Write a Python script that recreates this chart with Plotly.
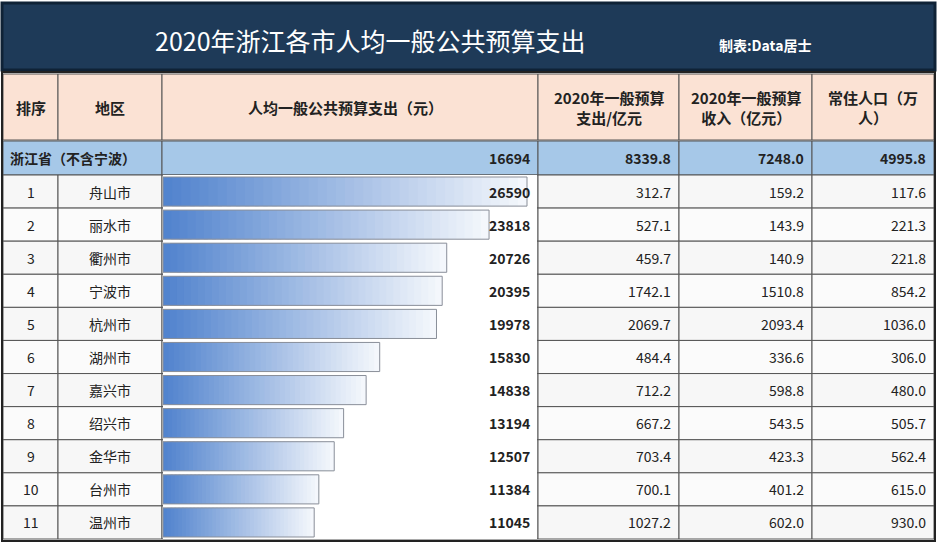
import plotly.graph_objects as go

# data
ranks = [str(i) for i in range(1, 12)]
cities = ["舟山市", "丽水市", "衢州市", "宁波市", "杭州市", "湖州市", "嘉兴市", "绍兴市", "金华市", "台州市", "温州市"]
per_capita = [26590, 23818, 20726, 20395, 19978, 15830, 14838, 13194, 12507, 11384, 11045]
expend = [312.7, 527.1, 459.7, 1742.1, 2069.7, 484.4, 712.2, 667.2, 703.4, 700.1, 1027.2]
revenue = [159.2, 143.9, 140.9, 1510.8, 2093.4, 336.6, 598.8, 543.5, 423.3, 401.2, 602.0]
population = [117.6, 221.3, 221.8, 854.2, 1036.0, 306.0, 480.0, 505.7, 562.4, 615.0, 930.0]
province = ["浙江省（不含宁波）", "16694", "8339.8", "7248.0", "4995.8"]
headers = ["排序", "地区", "人均一般公共预算支出（元）", "2020年一般预算<br>支出/亿元", "2020年一般预算<br>收入（亿元）", "常住人口（万<br>人）"]

W, H = 937, 543
cols = [3, 58, 162, 538, 679, 812, 934]
title_y = (3, 70)
head_y = (74, 140)
prov_y = (141, 175)
row_h = (539 - 175) / 11
row_top = 175
FONT = "Noto Sans CJK SC"

fig = go.Figure()
shapes = []
ann = []

def rect(x0, y0, x1, y1, fill, line="#555", lw=1):
    shapes.append(dict(type="rect", xref="x", yref="y", x0=x0, y0=y0, x1=x1, y1=y1,
                       fillcolor=fill, line=dict(color=line, width=lw), layer="below"))

def text(x, y, s, anchor="center", size=14, bold=False, color="#222"):
    ann.append(dict(x=x, y=y, xref="x", yref="y", text=f"<b>{s}</b>" if bold else s,
                    showarrow=False, xanchor=anchor, font=dict(family=FONT, size=size, color=color)))

# title band
rect(2, title_y[0], 935, title_y[1], "#1e3a58", "#0f2236", 3)
text(370, 40, "2020年浙江各市人均一般公共预算支出", size=25, color="white")
text(765, 45, "制表:Data居士", size=14, bold=True, color="white")

# header row
for i in range(6):
    rect(cols[i], head_y[0], cols[i + 1], head_y[1], "#fbe2d4")
    x = (cols[i] + cols[i + 1]) / 2
    if i == 2:
        x = 345
    text(x, (head_y[0] + head_y[1]) / 2, headers[i], size=15, bold=True)

# province row
rect(cols[0], prov_y[0], cols[2], prov_y[1], "#a6c8e8")
for i in range(2, 6):
    rect(cols[i], prov_y[0], cols[i + 1], prov_y[1], "#a6c8e8")
pm = (prov_y[0] + prov_y[1]) / 2
text(8, pm, province[0], anchor="left", size=14, bold=True)
for i in range(1, 5):
    text(cols[i + 2] - 6, pm, province[i], anchor="right", size=14, bold=True)

# data rows
for r in range(11):
    y0 = row_top + r * row_h
    y1 = y0 + row_h
    ym = (y0 + y1) / 2
    for i in range(6):
        rect(cols[i], y0, cols[i + 1], y1, "#f7f7f7" if r % 2 == 0 else "#fbfbfb")
    text((cols[0] + cols[1]) / 2, ym, ranks[r])
    text((cols[1] + cols[2]) / 2, ym, cities[r])
    text(cols[3] - 6, ym, str(per_capita[r]), anchor="right", bold=True)
    text(cols[4] - 6, ym, f"{expend[r]:.1f}", anchor="right")
    text(cols[5] - 6, ym, f"{revenue[r]:.1f}", anchor="right")
    text(cols[6] - 6, ym, f"{population[r]:.1f}", anchor="right")

# outer frame
shapes.append(dict(type="rect", xref="x", yref="y", x0=2, y0=72, x1=935, y1=541,
                   line=dict(color="#222", width=2), layer="above"))

# invisible trace to establish main axes
fig.add_trace(go.Scatter(x=[0, W], y=[0, H], mode="markers", marker=dict(opacity=0),
                         hoverinfo="skip", showlegend=False))

# gradient data bars (overlapping segments so no seams show)
N = 40
c0 = (82, 132, 206)
c1 = (244, 247, 252)
for k in range(N):
    t = k / (N - 1)
    col = "rgb(%d,%d,%d)" % tuple(int(c0[j] + (c1[j] - c0[j]) * t) for j in range(3))
    bases = [v * k / N for v in per_capita]
    lens = [min(v * 2.5 / N, v - b) for v, b in zip(per_capita, bases)]
    fig.add_trace(go.Bar(y=cities, x=lens, base=bases,
                         orientation="h", marker=dict(color=col, line=dict(width=0)), width=0.88,
                         xaxis="x2", yaxis="y2", showlegend=False, hoverinfo="skip"))
fig.add_trace(go.Bar(y=cities, x=per_capita, orientation="h", width=0.88,
                     marker=dict(color="rgba(0,0,0,0)", line=dict(color="#8a8f99", width=1)),
                     xaxis="x2", yaxis="y2", showlegend=False, hoverinfo="skip"))

fig.update_layout(
    width=W, height=H, margin=dict(l=0, r=0, t=0, b=0),
    paper_bgcolor="white", plot_bgcolor="white", barmode="overlay",
    shapes=shapes, annotations=ann,
    xaxis=dict(range=[0, W], visible=False, fixedrange=True),
    yaxis=dict(range=[H, 0], visible=False, fixedrange=True),
    xaxis2=dict(domain=[163 / W, 537 / W], range=[0, 27320], visible=False, anchor="y2"),
    yaxis2=dict(domain=[1 - 539 / H, 1 - 175 / H], categoryorder="array",
                categoryarray=cities[::-1], visible=False, anchor="x2"),
)

fig.write_html("out.html", config={"displayModeBar": False})

# drop the default page margin so the figure fills the window
with open("out.html", encoding="utf-8") as f:
    page = f.read()
page = page.replace("<body>", '<body style="margin:0;overflow:hidden">', 1)
with open("out.html", "w", encoding="utf-8") as f:
    f.write(page)
